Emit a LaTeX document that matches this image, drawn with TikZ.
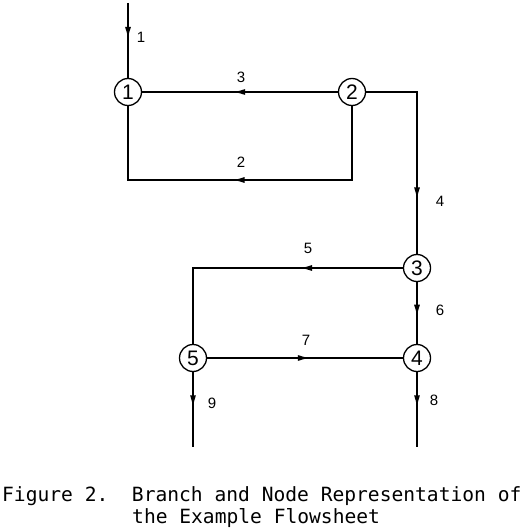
\documentclass[tikz,border=0pt]{standalone}
\usepackage{fontspec}
\setmainfont{Liberation Sans}
\newfontfamily\capfont{DejaVu Sans Mono}
\usetikzlibrary{decorations.markings,arrows.meta}
\tikzset{
  vert/.style={circle,draw,line width=1.3pt,minimum size=27pt,inner sep=0pt,font=\fontsize{21}{21}\selectfont},
  branch/.style={line width=1.4pt},
  flowat/.style={postaction={decorate,decoration={markings,mark=at position #1 with {\arrow{Latex[length=12pt,width=6pt]}}}}},
  lbl/.style={font=\fontsize{15}{15}\selectfont,inner sep=0pt},
  captext/.style={font=\capfont\fontsize{19.6}{22}\selectfont,anchor=base west,inner sep=0pt}
}
\begin{document}
\begin{tikzpicture}[x=1pt,y=-1pt]
\useasboundingbox (0,0) rectangle (527,529);
\node[vert] (n1) at (128,92) {1};
\node[vert] (n2) at (352,92) {2};
\node[vert] (n3) at (417,268) {3};
\node[vert] (n4) at (417,358) {4};
\node[vert] (n5) at (193,358) {5};
\coordinate (in1) at (128,3);
\coordinate (out9) at (193,447);
\coordinate (out8) at (417,447);
\draw[branch,flowat=0.48] (in1) -- (n1.north);
\draw[branch,flowat=0.535] (n2.west) -- (n1.east);
\draw[branch,flowat=0.52] (n2.south) |- (128,180) -- (n1.south);
\draw[branch,flowat=0.744] (n2.east) -| (n3.north);
\draw[branch,flowat=0.36] (n3.west) -| (n5.north);
\draw[branch,flowat=0.56] (n3.south) -- (n4.north);
\draw[branch,flowat=0.525] (n5.east) -- (n4.west);
\draw[branch,flowat=0.47] (n5.south) -- (out9);
\draw[branch,flowat=0.47] (n4.south) -- (out8);
\node[lbl] (l1) at (141,37) {1};
\node[lbl] (l3) at (241,77) {3};
\node[lbl] (l2) at (241,162) {2};
\node[lbl] (l4) at (440,201) {4};
\node[lbl] (l5) at (308,248) {5};
\node[lbl] (l6) at (440,310) {6};
\node[lbl] (l7) at (306,340) {7};
\node[lbl] (l9) at (212,403) {9};
\node[lbl] (l8) at (434,400) {8};
\node[captext] (cap1) at (2,501) {Figure 2.\ \ Branch and Node Representation of};
\node[captext] (cap2) at (132,523) {the Example Flowsheet};
\end{tikzpicture}
\end{document}
